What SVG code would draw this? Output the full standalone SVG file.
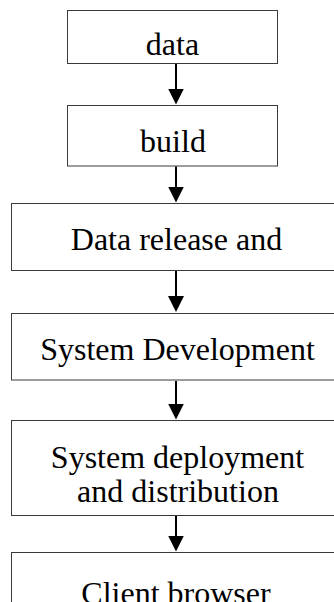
<svg xmlns="http://www.w3.org/2000/svg" width="334" height="602" viewBox="0 0 334 602">
<style>
.box{fill:#fff;stroke:#3a3a3a;stroke-width:1}
.t{font-family:"Liberation Serif","Times New Roman",serif;font-size:32px;fill:#000;text-anchor:middle}
.c{stroke:#000;stroke-width:2;fill:none}
</style>
<defs>
<marker id="ah" markerUnits="userSpaceOnUse" markerWidth="16" markerHeight="16" refX="6" refY="8" orient="auto" viewBox="0 0 16 16">
<path d="M0,0 L16,8 L0,16 Z" fill="#000"/>
</marker>
</defs>
<rect width="334" height="602" fill="#fff"/>
<g id="n1"><rect class="box" x="67.5" y="10.5" width="210" height="53"/><text class="t" x="172.5" y="55">data</text></g>
<g id="n2"><rect class="box" x="67.5" y="105.5" width="210" height="60.5"/><text class="t" x="173" y="152">build</text></g>
<g id="n3"><rect class="box" x="11.5" y="203.5" width="330" height="67"/><text class="t" x="176.5" y="249.5">Data release and</text></g>
<g id="n4"><rect class="box" x="11.5" y="313.5" width="330" height="66.5"/><text class="t" x="177.5" y="360">System Development</text></g>
<g id="n5"><rect class="box" x="11.5" y="420.5" width="330" height="95"/><text class="t" x="177.5" y="467.5">System deployment</text><text class="t" x="178" y="501.5">and distribution</text></g>
<g id="n6"><rect class="box" x="11.5" y="552.5" width="330" height="80"/><text class="t" x="176" y="604">Client browser</text></g>
<g id="connectors">
<line class="c" x1="176" y1="64" x2="176" y2="94.5" marker-end="url(#ah)"/>
<line class="c" x1="176" y1="166.5" x2="176" y2="192.5" marker-end="url(#ah)"/>
<line class="c" x1="176" y1="271" x2="176" y2="302" marker-end="url(#ah)"/>
<line class="c" x1="176" y1="381" x2="176" y2="409.5" marker-end="url(#ah)"/>
<line class="c" x1="176" y1="516" x2="176" y2="541.5" marker-end="url(#ah)"/>
</g>
</svg>
